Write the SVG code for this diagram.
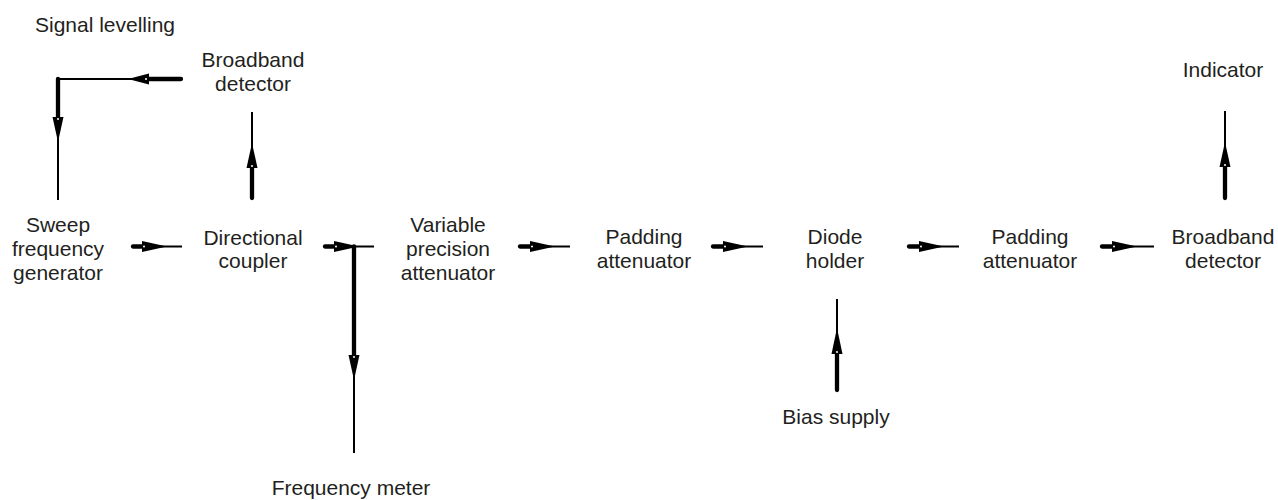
<svg xmlns="http://www.w3.org/2000/svg" width="1278" height="500" viewBox="0 0 1278 500">
<style>
text{font-family:"Liberation Sans",Arial,sans-serif;font-size:21px;fill:#231f20;text-anchor:middle}
.thick{stroke:#000;stroke-width:4.3;stroke-linecap:round;fill:none}
.thin{stroke:#000;stroke-width:2;fill:none}
.head{fill:#000;stroke:none}
.dot{fill:#fff}
</style>
<rect width="1278" height="500" fill="#fff"/>
<g id="connectors">
  <g id="a1"><line class="thin" x1="142" y1="246.5" x2="182" y2="246.5"/><line class="thick" x1="133" y1="246.5" x2="144" y2="246.5"/><polygon class="head" points="142,241 167,246.5 142,252"/><circle class="dot" cx="144" cy="246.5" r="1"/></g>
  <g id="a2"><line class="thin" x1="334" y1="246.5" x2="374" y2="246.5"/><line class="thick" x1="325" y1="246.5" x2="336" y2="246.5"/><polygon class="head" points="334,241 359,246.5 334,252"/><circle class="dot" cx="336" cy="246.5" r="1"/></g>
  <g id="a3"><line class="thin" x1="530" y1="246.5" x2="570" y2="246.5"/><line class="thick" x1="520" y1="246.5" x2="532" y2="246.5"/><polygon class="head" points="530,241 555,246.5 530,252"/><circle class="dot" cx="532" cy="246.5" r="1"/></g>
  <g id="a4"><line class="thin" x1="723" y1="246.5" x2="763" y2="246.5"/><line class="thick" x1="713" y1="246.5" x2="725" y2="246.5"/><polygon class="head" points="723,241 748,246.5 723,252"/><circle class="dot" cx="725" cy="246.5" r="1"/></g>
  <g id="a5"><line class="thin" x1="919" y1="246.5" x2="959" y2="246.5"/><line class="thick" x1="909" y1="246.5" x2="921" y2="246.5"/><polygon class="head" points="919,241 944,246.5 919,252"/><circle class="dot" cx="921" cy="246.5" r="1"/></g>
  <g id="a6"><line class="thin" x1="1112" y1="246.5" x2="1154" y2="246.5"/><line class="thick" x1="1102" y1="246.5" x2="1114" y2="246.5"/><polygon class="head" points="1112,241 1137,246.5 1112,252"/><circle class="dot" cx="1114" cy="246.5" r="1"/></g>
  <g id="up1"><line class="thin" x1="252" y1="112" x2="252" y2="168"/><line class="thick" x1="252" y1="198" x2="252" y2="166"/><polygon class="head" points="246.5,168 252,143 257.5,168"/><circle class="dot" cx="252" cy="166" r="1"/></g>
  <g id="fb"><polyline class="thin" points="146,79 58,79 58,200"/><line class="thick" x1="181" y1="79" x2="145" y2="79"/><polygon class="head" points="149,73.5 128,79 149,84.5"/><circle class="dot" cx="146" cy="79" r="1"/><line class="thick" x1="58" y1="79" x2="58" y2="119"/><polygon class="head" points="52.5,117 58,142 63.5,117"/><circle class="dot" cx="58" cy="119" r="1"/></g>
  <g id="down1"><line class="thin" x1="354" y1="355" x2="354" y2="453"/><line class="thick" x1="354" y1="246.5" x2="354" y2="357"/><polygon class="head" points="348.5,355 354,380 359.5,355"/><circle class="dot" cx="354" cy="357" r="1"/></g>
  <g id="up2"><line class="thin" x1="837" y1="299" x2="837" y2="354"/><line class="thick" x1="837" y1="390" x2="837" y2="352"/><polygon class="head" points="831.5,354 837,328 842.5,354"/><circle class="dot" cx="837" cy="352" r="1"/></g>
  <g id="up3"><line class="thin" x1="1225" y1="111" x2="1225" y2="167"/><line class="thick" x1="1225" y1="198" x2="1225" y2="165"/><polygon class="head" points="1219.5,167 1225,142 1230.5,167"/><circle class="dot" cx="1225" cy="165" r="1"/></g>
</g>
<g id="signal-levelling"><text x="105" y="32">Signal levelling</text></g>
<g id="broadband-detector-top"><text x="253" y="67">Broadband</text><text x="253" y="91">detector</text></g>
<g id="sweep-generator"><text x="58" y="232">Sweep</text><text x="58" y="256">frequency</text><text x="58" y="280">generator</text></g>
<g id="directional-coupler"><text x="253" y="245">Directional</text><text x="253" y="268">coupler</text></g>
<g id="variable-attenuator"><text x="448" y="232">Variable</text><text x="448" y="256">precision</text><text x="448" y="280">attenuator</text></g>
<g id="padding-attenuator-1"><text x="644" y="244">Padding</text><text x="644" y="268">attenuator</text></g>
<g id="diode-holder"><text x="835" y="244">Diode</text><text x="835" y="268">holder</text></g>
<g id="padding-attenuator-2"><text x="1030" y="244">Padding</text><text x="1030" y="268">attenuator</text></g>
<g id="broadband-detector-right"><text x="1223" y="244">Broadband</text><text x="1223" y="268">detector</text></g>
<g id="indicator"><text x="1223" y="77">Indicator</text></g>
<g id="bias-supply"><text x="836" y="424">Bias supply</text></g>
<g id="frequency-meter"><text x="351" y="495">Frequency meter</text></g>
</svg>
